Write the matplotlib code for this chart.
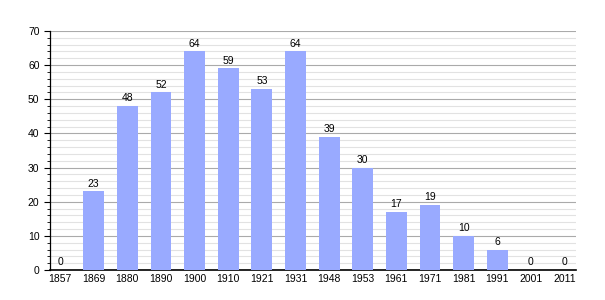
import matplotlib
matplotlib.use('Agg')
import matplotlib.pyplot as plt
from matplotlib.ticker import MultipleLocator

years = ['1857', '1869', '1880', '1890', '1900', '1910', '1921', '1931',
         '1948', '1953', '1961', '1971', '1981', '1991', '2001', '2011']
values = [0, 23, 48, 52, 64, 59, 53, 64, 39, 30, 17, 19, 10, 6, 0, 0]

plt.rcParams['font.family'] = 'Liberation Sans'
fig = plt.figure(figsize=(6.05, 3.0), dpi=100)
ax = fig.add_axes([0.0826, 0.1, 0.87, 0.797])

x = range(len(years))
ax.bar(x, values, width=0.62, color='#99aaff', zorder=3)
for xi, v in zip(x, values):
    ax.text(xi, v + 0.8, str(v), ha='center', va='bottom', fontsize=7.5, zorder=4)

ax.set_xlim(-0.3, 15.35)
ax.set_ylim(0, 70)
ax.set_xticks(list(x))
ax.set_xticklabels(years, fontsize=7.5)
ax.yaxis.set_major_locator(MultipleLocator(10))
ax.yaxis.set_minor_locator(MultipleLocator(2))
ax.tick_params(axis='y', labelsize=7.5, length=4, width=0.8, direction='out')
ax.tick_params(axis='y', which='minor', length=2.5, width=0.6)
ax.tick_params(axis='x', length=0, pad=3)
ax.grid(axis='y', which='major', color='#aaaaaa', linewidth=0.8, zorder=0)
ax.grid(axis='y', which='minor', color='#e2e2e2', linewidth=0.8, zorder=0)
for s in ['top', 'right']:
    ax.spines[s].set_visible(False)
ax.spines['left'].set_linewidth(0.9)
ax.spines['bottom'].set_linewidth(1.2)

fig.savefig('out.png', dpi=100)
